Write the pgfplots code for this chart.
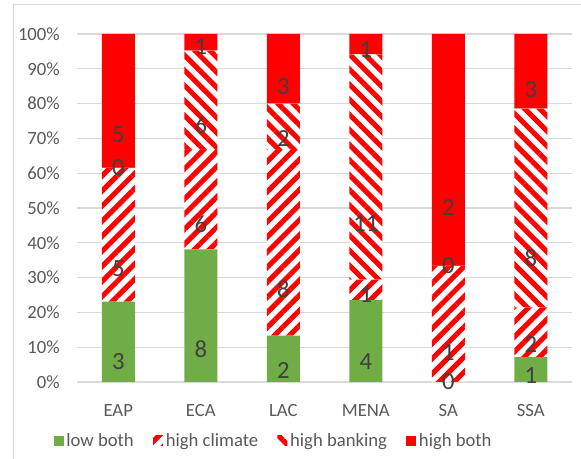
\documentclass[border=0pt]{standalone}
\usepackage{pgfplots}
\pgfplotsset{compat=1.18}
\usepackage{pgfplotstable}
\usetikzlibrary{patterns.meta}
\usepackage{fontspec}
\setmainfont{Carlito}
\definecolor{txt}{HTML}{595959}
\definecolor{lbl}{HTML}{404040}
\definecolor{grn}{HTML}{70AD47}
\definecolor{gridc}{HTML}{D9D9D9}

% x = category index, y = share in %, n = count shown as label
\pgfplotstableread{
x y n
0 23.077 3
1 38.095 8
2 13.333 2
3 23.529 4
4 0.001 0
5 7.143 1
}\lowboth
\pgfplotstableread{
x y n
0 38.462 5
1 28.571 6
2 53.333 8
3 5.882 1
4 33.333 1
5 14.286 2
}\highclimate
\pgfplotstableread{
x y n
0 0.001 0
1 28.571 6
2 13.333 2
3 64.706 11
4 0.001 0
5 57.143 8
}\highbanking
\pgfplotstableread{
x y n
0 38.461 5
1 4.763 1
2 20.001 3
3 5.883 1
4 66.665 2
5 21.428 3
}\highboth

\begin{document}
\begin{tikzpicture}
\draw[gridc, line width=0.75pt] (9.75pt,340.5pt) rectangle (470pt,-30pt);
\begin{axis}[
  at={(57.75pt,57.75pt)}, anchor=south west,
  scale only axis, width=371.25pt, height=261pt,
  set layers=standard, mark layer=axis foreground,
  ybar stacked, bar width=0.4,
  xmin=-0.5, xmax=5.5, ymin=0, ymax=100,
  enlargelimits=false, clip=false,
  axis line style={draw=none},
  major tick length=0pt,
  ymajorgrids, grid style={gridc, line width=1pt},
  xtick={0,...,5}, xticklabels={EAP,ECA,LAC,MENA,SA,SSA},
  ytick={0,10,...,100},
  yticklabels={0\%,10\%,20\%,30\%,40\%,50\%,60\%,70\%,80\%,90\%,100\%},
  tick label style={font=\fontsize{14}{16}\selectfont, text=txt},
  yticklabel style={anchor=east, inner sep=0pt, xshift=-12.75pt},
  xticklabel style={anchor=base, inner sep=0pt, yshift=-26.25pt},
  point meta=explicit symbolic,
  visualization depends on={\thisrow{y} \as \rawy},
  nodes near coords,
  every node near coord/.append style={anchor=center, inner sep=0pt,
     font=\fontsize{18.5}{20}\selectfont, text=lbl,
     shift={(axis direction cs:0,-\rawy/4)}},
  legend style={at={(0.398,-0.1695)}, anchor=center, draw=none, fill=none,
     legend columns=4, font=\fontsize{14}{16}\selectfont, text=txt,
     /tikz/every even column/.append style={column sep=12.5pt},
     /tikz/every odd column/.append style={column sep=0pt}},
  legend image code/.code={\path[#1,draw=none] (0pt,-3.75pt) rectangle (7.5pt,3.75pt);},
]
\addplot[fill=grn, draw=none] table[x=x,y=y,meta=n]{\lowboth};
\addlegendentry{low both}
\addplot[fill=white, draw=none, postaction={pattern color=red, pattern={Lines[angle=45,distance=8pt,line width=3.8pt]}}] table[x=x,y=y,meta=n]{\highclimate};
\addlegendentry{high climate}
\addplot[fill=white, draw=none, postaction={pattern color=red, pattern={Lines[angle=-45,distance=8pt,line width=3.8pt]}}] table[x=x,y=y,meta=n]{\highbanking};
\addlegendentry{high banking}
\addplot[fill=red, draw=none] table[x=x,y=y,meta=n]{\highboth};
\addlegendentry{high both}
\end{axis}
\pgfresetboundingbox
\path (0pt,0pt) rectangle (435.75pt,344.25pt);
\end{tikzpicture}
\end{document}
